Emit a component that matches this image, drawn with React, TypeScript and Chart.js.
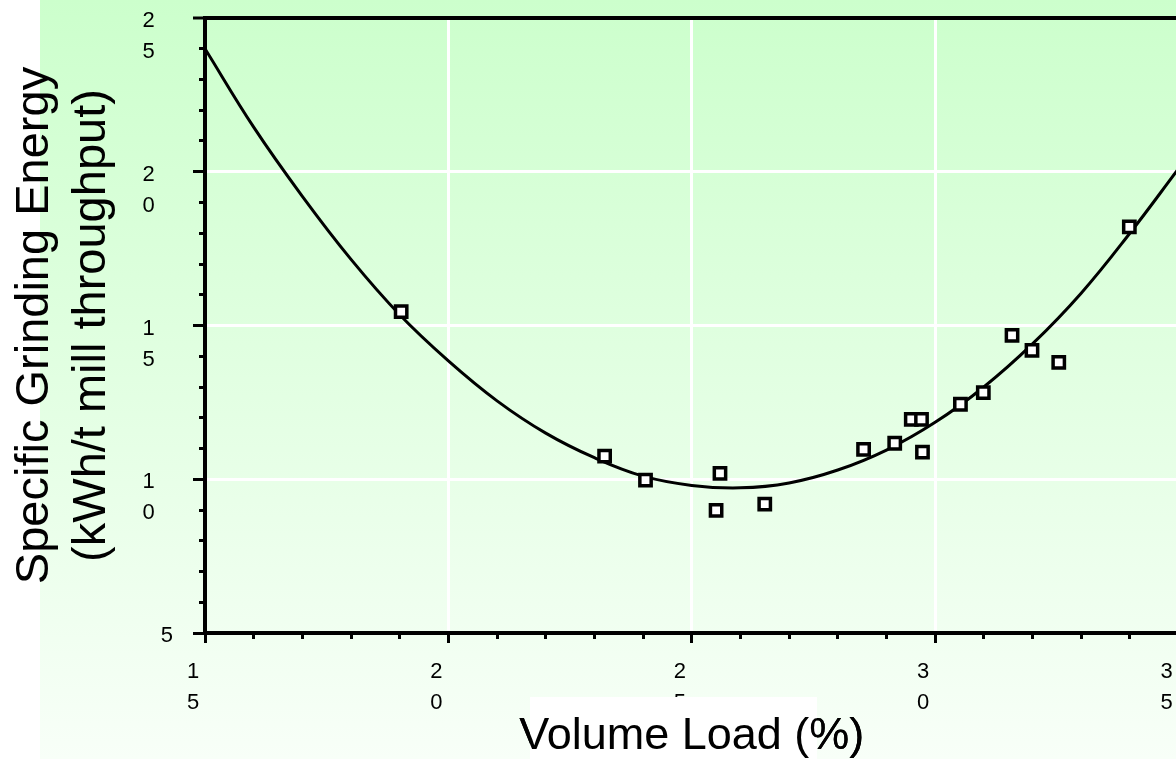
import React, { useEffect, useRef } from 'react';
import { Chart, registerables } from 'chart.js';

Chart.register(...registerables);

const FONT = "'Liberation Sans', Arial, Helvetica, sans-serif";

// Measured data points (Volume Load %, Specific Grinding Energy kWh/t)
const pointX = [19.03, 23.21, 24.05, 25.58, 25.5, 26.5, 28.53, 29.17, 29.51, 29.72, 29.74, 30.52, 30.99, 31.58, 31.99, 32.54, 33.99];
const pointY = [15.45, 10.75, 9.97, 10.19, 8.99, 9.19, 10.97, 11.17, 11.95, 11.95, 10.88, 12.44, 12.82, 14.68, 14.19, 13.8, 18.21];

// Fitted curve
const curveX = [15, 16, 17, 18, 19, 20, 21, 22, 23, 24, 25, 26, 27, 28, 29, 30, 31, 32, 33, 34, 35];
const curveY = [24.0, 21.45, 19.2, 17.15, 15.35, 13.85, 12.55, 11.5, 10.7, 10.1, 9.8, 9.72, 9.88, 10.3, 10.95, 11.85, 13.0, 14.4, 16.05, 18.0, 20.1];

// Tick labels (each digit on its own line, as in the original)
const xTickValues = [15, 20, 25, 30, 35];
const xTickLabels = [['1', '5'], ['2', '0'], ['2', '5'], ['3', '0'], ['3', '5']];
const yTickValues = [5, 10, 15, 20, 25];
const yTickLabels = [['5', ''], ['1', '0'], ['1', '5'], ['2', '0'], ['2', '5']];

const xTitle = 'Volume Load (%)';
const yTitle = ['Specific Grinding Energy', '(kWh/t mill throughput)'];

const TRANSPARENT = 'rgba(0,0,0,0)';

const bgPlugin = {
  id: 'bgPlugin',
  beforeDraw(chart: any) {
    const { ctx, width, height } = chart;
    ctx.save();
    ctx.fillStyle = '#ffffff';
    ctx.fillRect(0, 0, width, height);
    const g = ctx.createLinearGradient(0, 0, 0, height);
    g.addColorStop(0, '#ccffcc');
    g.addColorStop(1, '#f8fff8');
    ctx.fillStyle = g;
    ctx.fillRect(40, 0, width - 40, height);
    ctx.restore();
  },
  afterDraw(chart: any) {
    const { ctx } = chart;
    ctx.save();
    ctx.fillStyle = '#ffffff';
    ctx.fillRect(530, 697, 287, 62);
    ctx.restore();
    chart.scales.x.drawTitle();
  },
};

export default function App() {
  const canvasRef = useRef<HTMLCanvasElement | null>(null);

  useEffect(() => {
    const canvas = canvasRef.current;
    if (!canvas) return;

    const xIdx = (v: number) => xTickValues.indexOf(v);
    const yIdx = (v: number) => yTickValues.indexOf(v);

    const chart = new Chart(canvas, {
      type: 'scatter',
      data: {
        datasets: [
          {
            type: 'scatter',
            label: 'Data',
            data: pointX.map((x, i) => ({ x, y: pointY[i] })),
            pointStyle: 'rect',
            pointRadius: 8,
            pointBackgroundColor: '#ffffff',
            pointBorderColor: '#000000',
            pointBorderWidth: 3.5,
          } as any,
          {
            type: 'line',
            label: 'Fit',
            data: curveX.map((x, i) => ({ x, y: curveY[i] })),
            borderColor: '#000000',
            borderWidth: 3,
            pointRadius: 0,
            tension: 0.4,
            fill: false,
          } as any,
        ],
      },
      options: {
        animation: false,
        responsive: false,
        devicePixelRatio: 1,
        events: [],
        layout: { padding: { top: 18, right: 8, left: 0, bottom: 0 } },
        plugins: {
          legend: { display: false },
          tooltip: { enabled: false },
        },
        scales: {
          x: {
            type: 'linear',
            position: 'bottom',
            min: 15,
            max: 35,
            afterFit: (s: any) => {
              s.height = 126;
              s.paddingLeft = 0;
              s.paddingRight = 0;
            },
            ticks: {
              stepSize: 1,
              autoSkip: false,
              maxRotation: 0,
              minRotation: 0,
              padding: 13.5,
              labelOffset: -12,
              color: '#000000',
              font: { family: FONT, size: 22, lineHeight: 1.41 },
              callback: (v: any) => {
                const i = xIdx(Number(v));
                return i >= 0 ? xTickLabels[i] : '';
              },
            },
            grid: {
              color: (c: any) => {
                const v = c.tick ? c.tick.value : NaN;
                if (v === 15) return TRANSPARENT;
                if (v === 35) return '#000000';
                return v % 5 === 0 ? '#ffffff' : TRANSPARENT;
              },
              lineWidth: 3,
              tickColor: '#000000',
              tickWidth: 3,
              tickLength: 10,
              tickBorderDash: (c: any) => {
                const v = c.tick ? c.tick.value : NaN;
                return v % 5 === 0 ? [] : [4, 100];
              },
            },
            border: { display: true, color: '#000000', width: 4 },
            title: {
              display: true,
              text: xTitle,
              color: '#000000',
              font: { family: FONT, size: 45, lineHeight: 1 },
              padding: { top: 0, bottom: 0 },
            },
          },
          y: {
            type: 'linear',
            position: 'left',
            min: 5,
            max: 25,
            afterFit: (s: any) => {
              s.width = 205;
              s.paddingTop = 0;
              s.paddingBottom = 0;
            },
            ticks: {
              stepSize: 1,
              autoSkip: false,
              padding: 20,
              labelOffset: 18.5,
              color: '#000000',
              font: { family: FONT, size: 22, lineHeight: 1.41 },
              callback: (v: any) => {
                const i = yIdx(Number(v));
                if (i < 0) return '';
                const lines = yTickLabels[i];
                return lines[1] ? lines.map((t) => t + '   ') : lines;
              },
            },
            grid: {
              color: (c: any) => {
                const v = c.tick ? c.tick.value : NaN;
                if (v === 5) return TRANSPARENT;
                if (v === 25) return '#000000';
                return v % 5 === 0 ? '#ffffff' : TRANSPARENT;
              },
              lineWidth: (c: any) => (c.tick && c.tick.value === 25 ? 4 : 3),
              tickColor: '#000000',
              tickWidth: 3,
              tickLength: 12,
              tickBorderDash: (c: any) => {
                const v = c.tick ? c.tick.value : NaN;
                return v % 5 === 0 ? [] : [0, 6, 100, 0];
              },
            },
            border: { display: true, color: '#000000', width: 4 },
            title: {
              display: true,
              text: yTitle,
              color: '#000000',
              font: { family: FONT, size: 47, lineHeight: 1.2 },
              padding: { top: 7, bottom: 0 },
            },
          },
        },
      } as any,
      plugins: [bgPlugin],
    });

    return () => {
      chart.destroy();
    };
  }, []);

  return (
    <div
      style={{
        position: 'fixed',
        left: 0,
        top: 0,
        width: 1176,
        height: 759,
        overflow: 'hidden',
        background: '#ffffff',
      }}
    >
      <canvas ref={canvasRef} width={1190} height={759} style={{ display: 'block' }} />
    </div>
  );
}
